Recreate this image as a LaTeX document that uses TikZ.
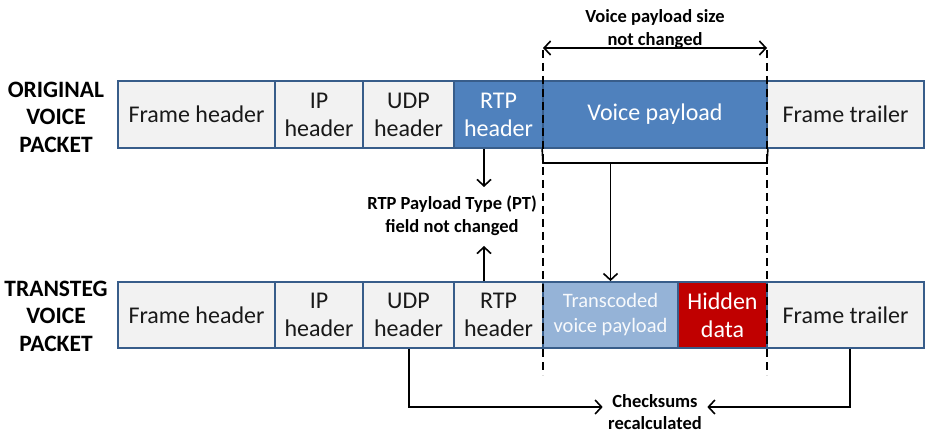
\documentclass[tikz,border=0pt]{standalone}
\usepackage{fontspec}
\setmainfont{Carlito}
\usetikzlibrary{arrows.meta}
\definecolor{boxfill}{HTML}{F2F2F2}
\definecolor{boxline}{HTML}{385D8A}
\definecolor{vblue}{HTML}{4F81BD}
\definecolor{lblue}{HTML}{95B3D7}
\definecolor{hred}{HTML}{C00000}
\tikzset{
  pbox/.style={draw=boxline, line width=1.8pt, fill=boxfill, text=black!90,
    align=center, inner sep=0pt, font=\fontsize{24}{28}\selectfont},
  dbox/.style={pbox, fill=vblue, text=white},
  tbox/.style={pbox, fill=lblue, text=white!92!lblue, font=\fontsize{20.5}{25}\selectfont},
  hbox/.style={pbox, fill=hred, text=white},
  side/.style={align=center, font=\bfseries\fontsize{23.5}{27.5}\selectfont},
  note/.style={align=center, font=\bfseries\fontsize{18.5}{23}\selectfont},
  guide/.style={black, line width=2.9pt, dash pattern=on 8pt off 5pt},
  conn/.style={black, line width=1.6pt},
  barb/.tip={Straight Barb[length=6.5pt,width=14pt,line width=1.6pt]},
  arr/.style={conn, -{barb}}
}
\begin{document}
\begin{tikzpicture}[x=1pt,y=-1pt]
\useasboundingbox (0,0) rectangle (926,430);
% row 1
\node[pbox, minimum width=157pt, minimum height=67pt] (fh1) at (196.5,114.5) {Frame header};
\node[pbox, minimum width=88pt, minimum height=67pt] (ip1) at (319,114.5) {IP\\header};
\node[pbox, minimum width=91pt, minimum height=67pt] (udp1) at (408.5,114.5) {UDP\\header};
\node[dbox, minimum width=89pt, minimum height=67pt] (rtp1) at (498.5,114.5) {RTP\\header};
\node[dbox, minimum width=224pt, minimum height=67pt] (vp1) at (655,114.5) {Voice payload};
\node[pbox, minimum width=157pt, minimum height=67pt] (ft1) at (845.5,114.5) {Frame trailer};
% row 2
\node[pbox, minimum width=157pt, minimum height=66pt] (fh2) at (196.5,315) {Frame header};
\node[pbox, minimum width=88pt, minimum height=66pt] (ip2) at (319,315) {IP\\header};
\node[pbox, minimum width=91pt, minimum height=66pt] (udp2) at (408.5,315) {UDP\\header};
\node[pbox, minimum width=89pt, minimum height=66pt] (rtp2) at (498.5,315) {RTP\\header};
\node[tbox, minimum width=135pt, minimum height=66pt] (tv2) at (610.5,315) {Transcoded\\voice payload};
\node[hbox, minimum width=89pt, minimum height=66pt] (hd2) at (722.5,315) {Hidden\\data};
\node[pbox, minimum width=157pt, minimum height=66pt] (ft2) at (845.5,315) {Frame trailer};
% side labels
\node[side] (lab1) at (56,117) {ORIGINAL\\VOICE\\PACKET};
\node[side] (lab2) at (56,316) {TRANSTEG\\VOICE\\PACKET};
% notes
\node[note] (size) at (655,29) {Voice payload size\\not changed};
\node[note] (pt) at (452,216) {RTP Payload Type (PT)\\field not changed};
\node[note, font=\bfseries\fontsize{18.5}{21.5}\selectfont] (chk) at (655,412) {Checksums\\recalculated};
% dashed guides
\coordinate (gl1) at (543,50); \coordinate (gl2) at (543,375);
\coordinate (gr1) at (767,50); \coordinate (gr2) at (767,375);
\draw[guide] (gl1) -- (gl2);
\draw[guide] (gr1) -- (gr2);
% size arrow
\draw[conn, {barb}-{barb}] ([yshift=2pt]gl1) -- ([yshift=2pt]gr1);
% bracket
\coordinate (bl) at (543,163); \coordinate (br) at (767,163);
\draw[conn] (vp1.south west) -- (bl) -- (br) -- (vp1.south east);
\draw[arr] (bl -| tv2.north) -- (tv2.north);
% RTP PT arrows
\draw[arr] ([xshift=-14.5pt]rtp1.south) -- ([xshift=-14.5pt]rtp1.south |- 0,187);
\draw[arr] ([xshift=-14.5pt]rtp2.north) -- ([xshift=-14.5pt]rtp2.north |- 0,246);
% checksums
\coordinate (cl) at (409,407); \coordinate (cr) at (850,407);
\draw[arr] ([xshift=0.5pt]udp2.south) -- (cl) -- ([xshift=-2pt]chk.west |- cl);
\draw[arr] ([xshift=4.5pt]ft2.south) -- (cr) -- ([xshift=2pt]chk.east |- cr);
\end{tikzpicture}
\end{document}
